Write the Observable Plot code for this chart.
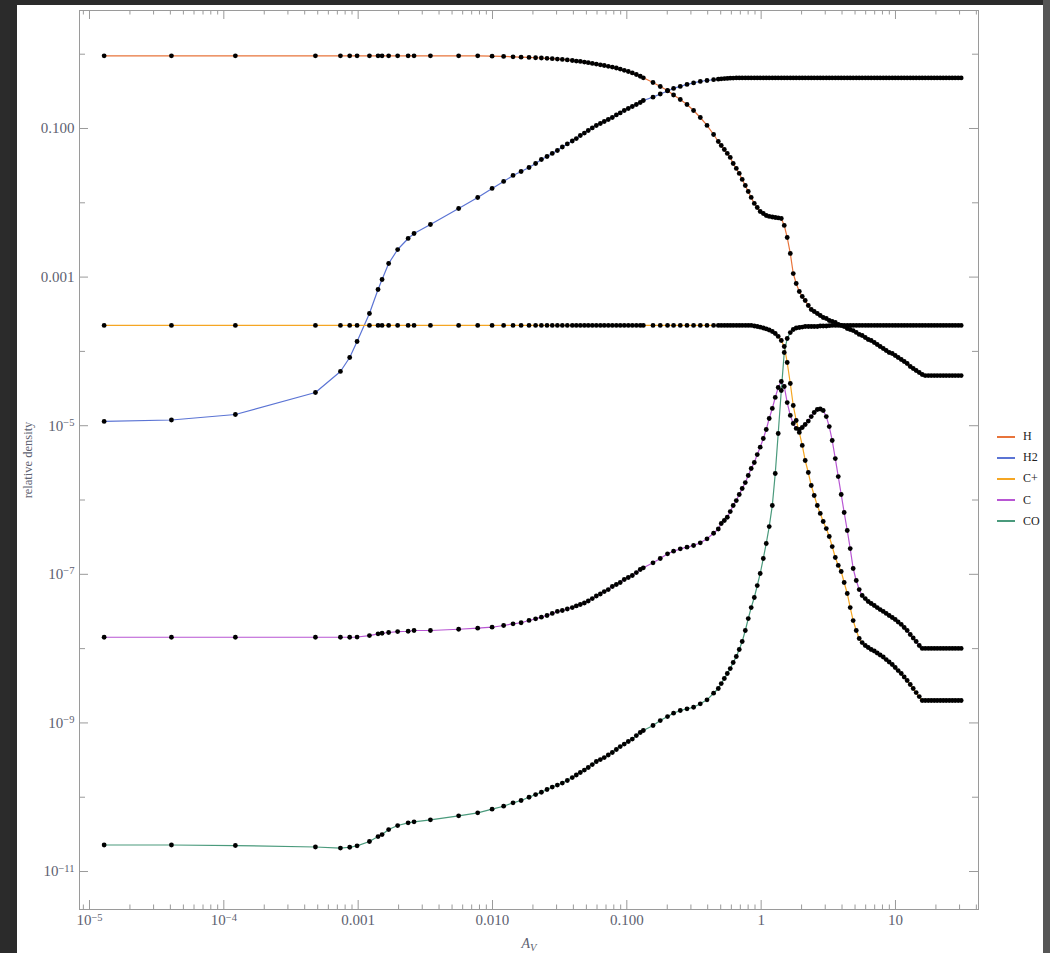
<!DOCTYPE html>
<html>
<head>
<meta charset="utf-8">
<script src="https://cdn.jsdelivr.net/npm/d3@7"></script>
<script src="https://cdn.jsdelivr.net/npm/@observablehq/plot@0.6"></script>
<style>
  html, body { margin: 0; padding: 0; width: 1050px; height: 953px; overflow: hidden; background: #2b2b2b; }
  #sheet { position: absolute; left: 17px; top: 5px; width: 1026px; height: 948px; background: #ffffff; }
  #edge { position: absolute; left: 1043px; top: 0; width: 7px; height: 953px; background: #565656; }
  #chart { position: absolute; left: 0; top: 0; }
  #legend { position: absolute; left: 997px; top: 426px; font-family: "Liberation Serif", serif; font-size: 12px; color: #222; }
  #legend .item { height: 21.2px; display: flex; align-items: center; }
  #legend .swatch { width: 18px; height: 2px; margin-right: 8px; }
</style>
</head>
<body>
<div id="sheet"></div>
<div id="edge"></div>
<div id="chart"></div>
<div id="legend"></div>
<script>
// Visual extinction grid (log10 A_V), shared by every species
const avLog10 = [
  -4.891, -4.390, -3.914, -3.318, -3.132, -3.063, -3.008, -2.916, -2.852, -2.822,
  -2.773, -2.706, -2.628, -2.584, -2.462, -2.252, -2.110, -2.003, -1.917, -1.847,
  -1.787, -1.728, -1.679,
  -1.636, -1.594, -1.555, -1.517, -1.480, -1.443, -1.406, -1.376, -1.346, -1.316,
  -1.287, -1.257, -1.227, -1.197, -1.168, -1.138, -1.108, -1.078, -1.049, -1.019,
  -0.989, -0.959, -0.929, -0.900, -0.877,
  -0.805, -0.751, -0.697, -0.652, -0.602, -0.552, -0.503, -0.453, -0.403, -0.354,
  -0.319, -0.297, -0.274, -0.252, -0.230, -0.208, -0.185, -0.163, -0.141, -0.118,
  -0.096, -0.074, -0.051, -0.029, -0.007, 0.016, 0.038, 0.060, 0.083, 0.105,
  0.127, 0.150, 0.172, 0.194, 0.217, 0.239, 0.261, 0.284, 0.306, 0.328,
  0.351, 0.373, 0.395, 0.418, 0.440, 0.462, 0.485, 0.507, 0.529, 0.552,
  0.574, 0.596, 0.618, 0.641, 0.663, 0.685, 0.708, 0.730, 0.752, 0.775,
  0.797, 0.819, 0.842, 0.864, 0.886, 0.909, 0.931, 0.953, 0.976, 0.998,
  1.020, 1.043, 1.065, 1.087, 1.110, 1.132, 1.154, 1.177, 1.199, 1.221,
  1.244, 1.266, 1.288, 1.310, 1.333, 1.355, 1.377, 1.400, 1.422, 1.444,
  1.467, 1.489
];

// Relative densities (log10) on the grid above
const hLog10 = [
  -0.022, -0.022, -0.022, -0.022, -0.022, -0.022, -0.022, -0.022, -0.022, -0.022,
  -0.022, -0.022, -0.022, -0.022, -0.022, -0.022, -0.022, -0.027, -0.030, -0.035,
  -0.040, -0.044, -0.048,
  -0.051, -0.055, -0.060, -0.066, -0.071, -0.077, -0.085, -0.092, -0.098, -0.106,
  -0.114, -0.124, -0.133, -0.143, -0.152, -0.163, -0.174, -0.186, -0.200, -0.217,
  -0.233, -0.252, -0.273, -0.297, -0.318,
  -0.381, -0.435, -0.488, -0.549, -0.610, -0.677, -0.758, -0.852, -0.959, -1.081,
  -1.175, -1.229, -1.283, -1.336, -1.390, -1.471, -1.538, -1.605, -1.686, -1.767,
  -1.848, -1.928, -2.009, -2.063, -2.117, -2.144, -2.171, -2.184, -2.191, -2.198,
  -2.204, -2.211, -2.305, -2.467, -2.682, -2.952, -3.086, -3.194, -3.261, -3.315,
  -3.382, -3.436, -3.463, -3.490, -3.517, -3.544, -3.557, -3.584, -3.597, -3.611,
  -3.638, -3.651, -3.665, -3.692, -3.705, -3.719, -3.745, -3.772, -3.786, -3.813,
  -3.840, -3.853, -3.880, -3.907, -3.934, -3.961, -3.988, -4.015, -4.028, -4.055,
  -4.082, -4.109, -4.136, -4.163, -4.203, -4.230, -4.257, -4.284, -4.311, -4.325,
  -4.325, -4.325, -4.325, -4.325, -4.325, -4.325, -4.325, -4.325, -4.325, -4.325,
  -4.325, -4.325
];

const h2Log10 = [
  -4.943, -4.923, -4.849, -4.553, -4.270, -4.082, -3.867, -3.490, -3.167, -3.032,
  -2.817, -2.629, -2.480, -2.413, -2.292, -2.077, -1.929, -1.807, -1.713, -1.632,
  -1.579, -1.525, -1.471,
  -1.417, -1.377, -1.336, -1.296, -1.249, -1.208, -1.168, -1.135, -1.094, -1.061,
  -1.027, -0.993, -0.960, -0.933, -0.906, -0.879, -0.852, -0.818, -0.791, -0.758,
  -0.731, -0.704, -0.677, -0.650, -0.623,
  -0.578, -0.536, -0.495, -0.461, -0.434, -0.407, -0.387, -0.367, -0.354, -0.343,
  -0.336, -0.332, -0.328, -0.326, -0.323, -0.322, -0.320, -0.319, -0.319, -0.319,
  -0.319, -0.319, -0.319, -0.319, -0.319, -0.319, -0.319, -0.319, -0.319, -0.319,
  -0.319, -0.319, -0.319, -0.319, -0.319, -0.319, -0.319, -0.319, -0.319, -0.319,
  -0.319, -0.319, -0.319, -0.319, -0.319, -0.319, -0.319, -0.319, -0.319, -0.319,
  -0.319, -0.319, -0.319, -0.319, -0.319, -0.319, -0.319, -0.319, -0.319, -0.319,
  -0.319, -0.319, -0.319, -0.319, -0.319, -0.319, -0.319, -0.319, -0.319, -0.319,
  -0.319, -0.319, -0.319, -0.319, -0.319, -0.319, -0.319, -0.319, -0.319, -0.319,
  -0.319, -0.319, -0.319, -0.319, -0.319, -0.319, -0.319, -0.319, -0.319, -0.319,
  -0.319, -0.319
];

const cPlusLog10 = [
  -3.651, -3.651, -3.651, -3.651, -3.651, -3.651, -3.651, -3.651, -3.651, -3.651,
  -3.651, -3.651, -3.651, -3.651, -3.651, -3.651, -3.651, -3.651, -3.651, -3.651,
  -3.651, -3.651, -3.651,
  -3.651, -3.651, -3.651, -3.651, -3.651, -3.651, -3.651, -3.651, -3.651, -3.651,
  -3.651, -3.651, -3.651, -3.651, -3.651, -3.651, -3.651, -3.651, -3.651, -3.651,
  -3.651, -3.651, -3.651, -3.651, -3.651,
  -3.651, -3.651, -3.651, -3.651, -3.651, -3.651, -3.651, -3.651, -3.651, -3.651,
  -3.651, -3.651, -3.651, -3.651, -3.651, -3.651, -3.651, -3.651, -3.651, -3.651,
  -3.651, -3.651, -3.658, -3.665, -3.674, -3.685, -3.698, -3.712, -3.732, -3.759,
  -3.799, -3.853, -3.934, -4.149, -4.432, -4.728, -4.930, -5.091, -5.266, -5.468,
  -5.630, -5.805, -5.939, -6.074, -6.181, -6.289, -6.384, -6.491, -6.626, -6.774,
  -6.881, -6.962, -7.110, -7.258, -7.447, -7.622, -7.756, -7.864, -7.918, -7.958,
  -7.985, -8.012, -8.032, -8.059, -8.086, -8.113, -8.147, -8.180, -8.214, -8.254,
  -8.295, -8.335, -8.382, -8.429, -8.483, -8.537, -8.591, -8.645, -8.698, -8.698,
  -8.698, -8.698, -8.698, -8.698, -8.698, -8.698, -8.698, -8.698, -8.698, -8.698,
  -8.698, -8.698
];

const cLog10 = [
  -7.847, -7.847, -7.847, -7.847, -7.847, -7.847, -7.844, -7.824, -7.801, -7.793,
  -7.783, -7.770, -7.766, -7.756, -7.756, -7.739, -7.725, -7.712, -7.689, -7.666,
  -7.652, -7.621, -7.599,
  -7.577, -7.554, -7.527, -7.500, -7.487, -7.467, -7.447, -7.426, -7.406, -7.386,
  -7.359, -7.326, -7.292, -7.265, -7.232, -7.205, -7.164, -7.137, -7.110, -7.070,
  -7.043, -7.016, -6.976, -6.935, -6.912,
  -6.845, -6.787, -6.724, -6.689, -6.657, -6.635, -6.612, -6.576, -6.522, -6.447,
  -6.390, -6.316, -6.276, -6.232, -6.155, -6.074, -6.007, -5.926, -5.845, -5.765,
  -5.670, -5.576, -5.495, -5.388, -5.289, -5.172, -5.051, -4.903, -4.768, -4.620,
  -4.486, -4.405, -4.472, -4.688, -4.862, -4.970, -5.037, -5.051, -5.024, -4.984,
  -4.937, -4.877, -4.822, -4.782, -4.775, -4.795, -4.877, -5.011, -5.199, -5.442,
  -5.684, -5.926, -6.168, -6.410, -6.653, -6.922, -7.083, -7.205, -7.285, -7.326,
  -7.366, -7.393, -7.420, -7.447, -7.474, -7.500, -7.527, -7.554, -7.581, -7.608,
  -7.642, -7.675, -7.716, -7.756, -7.810, -7.857, -7.904, -7.958, -7.998, -7.998,
  -7.998, -7.998, -7.998, -7.998, -7.998, -7.998, -7.998, -7.998, -7.998, -7.998,
  -7.998, -7.998
];

const coLog10 = [
  -10.643, -10.643, -10.650, -10.670, -10.684, -10.673, -10.654, -10.596, -10.529, -10.502,
  -10.435, -10.381, -10.345, -10.331, -10.304, -10.250, -10.210, -10.161, -10.121, -10.075,
  -10.044, -10.000, -9.964,
  -9.933, -9.896, -9.863, -9.836, -9.809, -9.775, -9.735, -9.701, -9.667, -9.634,
  -9.600, -9.560, -9.519, -9.493, -9.466, -9.432, -9.398, -9.358, -9.318, -9.284,
  -9.250, -9.217, -9.170, -9.129, -9.102,
  -9.035, -8.968, -8.914, -8.869, -8.833, -8.810, -8.789, -8.743, -8.689, -8.600,
  -8.537, -8.470, -8.402, -8.335, -8.268, -8.187, -8.106, -8.012, -7.904, -7.756,
  -7.595, -7.447, -7.312, -7.151, -6.989, -6.787, -6.585, -6.357, -6.074, -5.643,
  -5.105, -4.526, -4.015, -3.826, -3.746, -3.705, -3.685, -3.678, -3.672, -3.665,
  -3.665, -3.665, -3.665, -3.665, -3.658, -3.658, -3.658, -3.654, -3.651, -3.651,
  -3.651, -3.651, -3.651, -3.651, -3.651, -3.651, -3.651, -3.651, -3.651, -3.651,
  -3.651, -3.651, -3.651, -3.651, -3.651, -3.651, -3.651, -3.651, -3.651, -3.651,
  -3.651, -3.651, -3.651, -3.651, -3.651, -3.651, -3.651, -3.651, -3.651, -3.651,
  -3.651, -3.651, -3.651, -3.651, -3.651, -3.651, -3.651, -3.651, -3.651, -3.651,
  -3.651, -3.651
];

const speciesNames = ["H", "H2", "C+", "C", "CO"];
const speciesColors = ["#e8743b", "#5b74d4", "#f5a623", "#b856d3", "#4a9a7c"];
const speciesValues = [hLog10, h2Log10, cPlusLog10, cLog10, coLog10];

// Axis ticks and their labels ("^" marks a superscript exponent)
const xTickValues = [1e-5, 1e-4, 0.001, 0.01, 0.1, 1, 10];
const xTickLabels = ["10^\u22125", "10^\u22124", "0.001", "0.010", "0.100", "1", "10"];
const yTickValues = [0.1, 0.001, 1e-5, 1e-7, 1e-9, 1e-11];
const yTickLabels = ["0.100", "0.001", "10^\u22125", "10^\u22127", "10^\u22129", "10^\u221211"];
const yShortTicks = [1, 0.01, 1e-4, 1e-6, 1e-8, 1e-10];

const xDomain = [10 ** -5.0744, 10 ** 1.618];
const yDomain = [10 ** -11.511, 10 ** 0.588];

// Minor x ticks: 2..9 within every decade that the domain touches
const xMinor = d3.range(-6, 2)
  .flatMap(e => d3.range(2, 10).map(m => m * 10 ** e))
  .filter(v => v > xDomain[0] && v < xDomain[1]);

const rows = speciesNames.flatMap((name, s) =>
  speciesValues[s].map((v, i) => ({species: name, av: 10 ** avLog10[i], n: 10 ** v}))
);

const W = 1050, H = 953;
const mL = 79, mR = 72, mT = 10, mB = 44;
const innerH = H - mT - mB, innerW = W - mL - mR;
const frameGray = "#9a9a9a";
const labelGray = "#5d6170";

const chart = Plot.plot({
  width: W,
  height: H,
  marginLeft: mL, marginRight: mR, marginTop: mT, marginBottom: mB,
  style: {background: "transparent", fontFamily: "'Liberation Serif', serif", overflow: "visible"},
  x: {type: "log", domain: xDomain, axis: null},
  y: {type: "log", domain: yDomain, axis: null},
  color: {domain: speciesNames, range: speciesColors},
  marks: [
    // inward frame ticks: bottom and top
    Plot.ruleX(xTickValues, {x: d => d, stroke: frameGray, insetTop: innerH - 9}),
    Plot.ruleX(xMinor, {x: d => d, stroke: frameGray, insetTop: innerH - 4.5}),
    Plot.ruleX(xTickValues, {x: d => d, stroke: frameGray, insetBottom: innerH - 9}),
    Plot.ruleX(xMinor, {x: d => d, stroke: frameGray, insetBottom: innerH - 4.5}),
    // inward frame ticks: left and right
    Plot.ruleY(yTickValues, {y: d => d, stroke: frameGray, insetRight: innerW - 9}),
    Plot.ruleY(yShortTicks, {y: d => d, stroke: frameGray, insetRight: innerW - 6}),
    Plot.ruleY(yTickValues, {y: d => d, stroke: frameGray, insetLeft: innerW - 9}),
    Plot.ruleY(yShortTicks, {y: d => d, stroke: frameGray, insetLeft: innerW - 6}),
    Plot.frame({stroke: frameGray, strokeWidth: 1}),
    // abundance curves and their sample points
    Plot.line(rows, {x: "av", y: "n", z: "species", stroke: "species", strokeWidth: 1.2}),
    Plot.dot(rows, {x: "av", y: "n", r: 2.4, fill: "black", stroke: null}),
    // tick labels
    Plot.text(xTickValues, {x: d => d, text: (d, i) => xTickLabels[i], frameAnchor: "bottom", lineAnchor: "middle", dy: 11, fill: labelGray, fontSize: 15}),
    Plot.text(yTickValues, {y: d => d, text: (d, i) => yTickLabels[i], frameAnchor: "left", lineAnchor: "middle", dx: -5, textAnchor: "end", fill: labelGray, fontSize: 15}),
    // axis titles
    Plot.text(["A_V"], {text: d => d, frameAnchor: "bottom", lineAnchor: "middle", textAnchor: "middle", dy: 34, fontStyle: "italic", fontSize: 14, fill: labelGray}),
    Plot.text(["relative density"], {text: d => d, frameAnchor: "left", lineAnchor: "middle", textAnchor: "middle", dx: -52, rotate: -90, fontSize: 12.5, fill: labelGray})
  ]
});

// Turn "^" into superscripts and "_" into subscripts
const SVGNS = "http://www.w3.org/2000/svg";
chart.querySelectorAll("text").forEach(t => {
  const s = t.textContent;
  let m = s.match(/^(.*)\^(.*)$/);
  if (m) {
    t.textContent = m[1];
    const ts = document.createElementNS(SVGNS, "tspan");
    ts.setAttribute("dy", "-0.45em");
    ts.setAttribute("font-size", "0.7em");
    ts.textContent = m[2];
    t.appendChild(ts);
    return;
  }
  m = s.match(/^(.*)_(.*)$/);
  if (m) {
    t.textContent = m[1];
    const ts = document.createElementNS(SVGNS, "tspan");
    ts.setAttribute("dy", "0.3em");
    ts.setAttribute("font-size", "0.75em");
    ts.textContent = m[2];
    t.appendChild(ts);
  }
});

document.getElementById("chart").appendChild(chart);

// Legend to the right of the frame
const legend = document.getElementById("legend");
speciesNames.forEach((name, i) => {
  const item = document.createElement("div");
  item.className = "item";
  const sw = document.createElement("span");
  sw.className = "swatch";
  sw.style.background = speciesColors[i];
  const label = document.createElement("span");
  label.textContent = name;
  item.appendChild(sw);
  item.appendChild(label);
  legend.appendChild(item);
});
</script>
</body>
</html>
